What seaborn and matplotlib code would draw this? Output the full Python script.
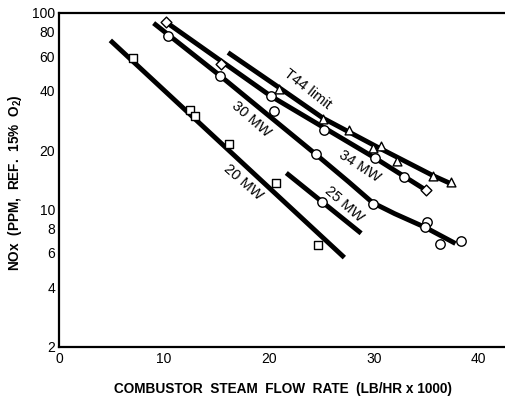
import matplotlib
matplotlib.use("Agg")
import matplotlib.pyplot as plt
import seaborn as sns
import pandas as pd

sns.set_theme(style="white")
plt.rcParams['font.family'] = ['Liberation Sans', 'DejaVu Sans']
plt.rcParams['mathtext.fontset'] = 'custom'
plt.rcParams['mathtext.bf'] = 'Liberation Sans:bold'
plt.rcParams['mathtext.rm'] = 'Liberation Sans'

# ---------------- data ----------------
# fitted lines (x = steam flow, klb/hr ; y = NOx ppm)
line20_x = [4.87, 27.2]
line20_y = [72.3, 5.68]
line25_x = [21.66, 28.8]
line25_y = [15.3, 7.55]
line30_x = [9.0, 15.3, 24.5, 27.6, 29.9, 32.0, 34.9, 37.8]
line30_y = [88.5, 48.0, 19.0, 13.8, 10.8, 9.5, 8.1, 6.7]
line34_x = [10.0, 20.2, 30.15, 35.1]
line34_y = [91.0, 37.6, 18.2, 12.4]
lineT44_x = [16.1, 21.0, 25.2, 30.3, 35.7, 37.5]
lineT44_y = [62.7, 41.5, 29.0, 20.8, 14.8, 13.4]

# measured points
square_x = [7.06, 12.5, 12.98, 16.19, 20.7, 24.7]
square_y = [58.8, 31.9, 29.8, 21.5, 13.6, 6.6]
diamond_x = [10.14, 15.39, 35.0]
diamond_y = [89.6, 55.1, 12.5]
circle_x = [10.37, 15.3, 20.5, 24.5, 29.9, 35.1, 34.9, 36.3, 38.3,
            20.16, 25.22, 30.15, 32.9, 25.07]
circle_y = [76.0, 47.9, 31.5, 19.0, 10.6, 8.65, 8.1, 6.64, 6.9,
            37.6, 25.4, 18.2, 14.6, 10.9]
triangle_x = [20.97, 25.15, 27.67, 29.96, 30.66, 32.25, 35.66, 37.4]
triangle_y = [41.1, 28.7, 25.3, 20.5, 21.1, 17.6, 14.8, 13.7]

# curve labels
label_text = ["T44 limit", "34 MW", "30 MW", "25 MW", "20 MW"]
label_x = [23.7, 28.7, 18.3, 27.2, 17.5]
label_y = [40.8, 16.6, 28.7, 10.6, 13.8]
label_rot = [-38, -33, -41, -41, -41]

y_ticks = [2, 4, 6, 8, 10, 20, 40, 60, 80, 100]
x_ticks = [0, 10, 20, 30, 40]

# ---------------- figure ----------------
fig = plt.figure(figsize=(5.06, 4.05), dpi=100)
L, R, T, B = 59.3, 506, 12.7, 346.7
ax = fig.add_axes([L / 506, 1 - B / 405, (R - L) / 506, (B - T) / 405])
ax.set_facecolor('white')
ax.set_yscale('log')

lines = [(line20_x, line20_y), (line25_x, line25_y), (line30_x, line30_y),
         (line34_x, line34_y), (lineT44_x, lineT44_y)]
for lx, ly in lines:
    sns.lineplot(x=lx, y=ly, ax=ax, color='black', linewidth=3.5,
                 sort=False, estimator=None, zorder=2, solid_capstyle='butt',
                 solid_joinstyle='round')

pts = [(square_x, square_y, 's', 26), (diamond_x, diamond_y, 'D', 30),
       (circle_x, circle_y, 'o', 46), (triangle_x, triangle_y, '^', 40)]
for px, py, mk, sz in pts:
    sns.scatterplot(x=px, y=py, ax=ax, marker=mk, s=sz, color='white',
                    edgecolor='black', linewidth=1.0, zorder=3, legend=False)

for t, x, y, r in zip(label_text, label_x, label_y, label_rot):
    ax.text(x, y, t, rotation=r, rotation_mode='anchor', ha='center',
            va='center', fontsize=10.5, color='black')

ax.set_xlim(0, (R - L) / 10.48)
ax.set_ylim(2, 100)
ax.set_yticks(y_ticks)
ax.set_yticklabels([str(v) for v in y_ticks])
ax.yaxis.set_minor_locator(matplotlib.ticker.NullLocator())
ax.set_xticks(x_ticks)
ax.set_xticklabels([str(v) for v in x_ticks])

ax.tick_params(axis='both', direction='in', length=6, width=1.4,
               color='black', labelsize=10, labelcolor='black', pad=3)
ax.tick_params(axis='x', length=5, pad=4)

for s in ['left', 'bottom', 'top']:
    ax.spines[s].set_color('black')
    ax.spines[s].set_linewidth(1.6)
ax.spines['right'].set_visible(False)

ax.set_xlabel("COMBUSTOR  STEAM  FLOW  RATE  (LB/HR x 1000)",
              fontsize=9.8, fontweight='bold', color='black')
ax.xaxis.set_label_coords(0.5, -0.105)
ax.set_ylabel(r"NOx  (PPM,  REF.  15%  O$_\mathbf{2}$)",
              fontsize=9.8, fontweight='bold', color='black')
ax.yaxis.set_label_coords(-0.08, 0.49)

fig.savefig("out.png", dpi=100, facecolor='white')
